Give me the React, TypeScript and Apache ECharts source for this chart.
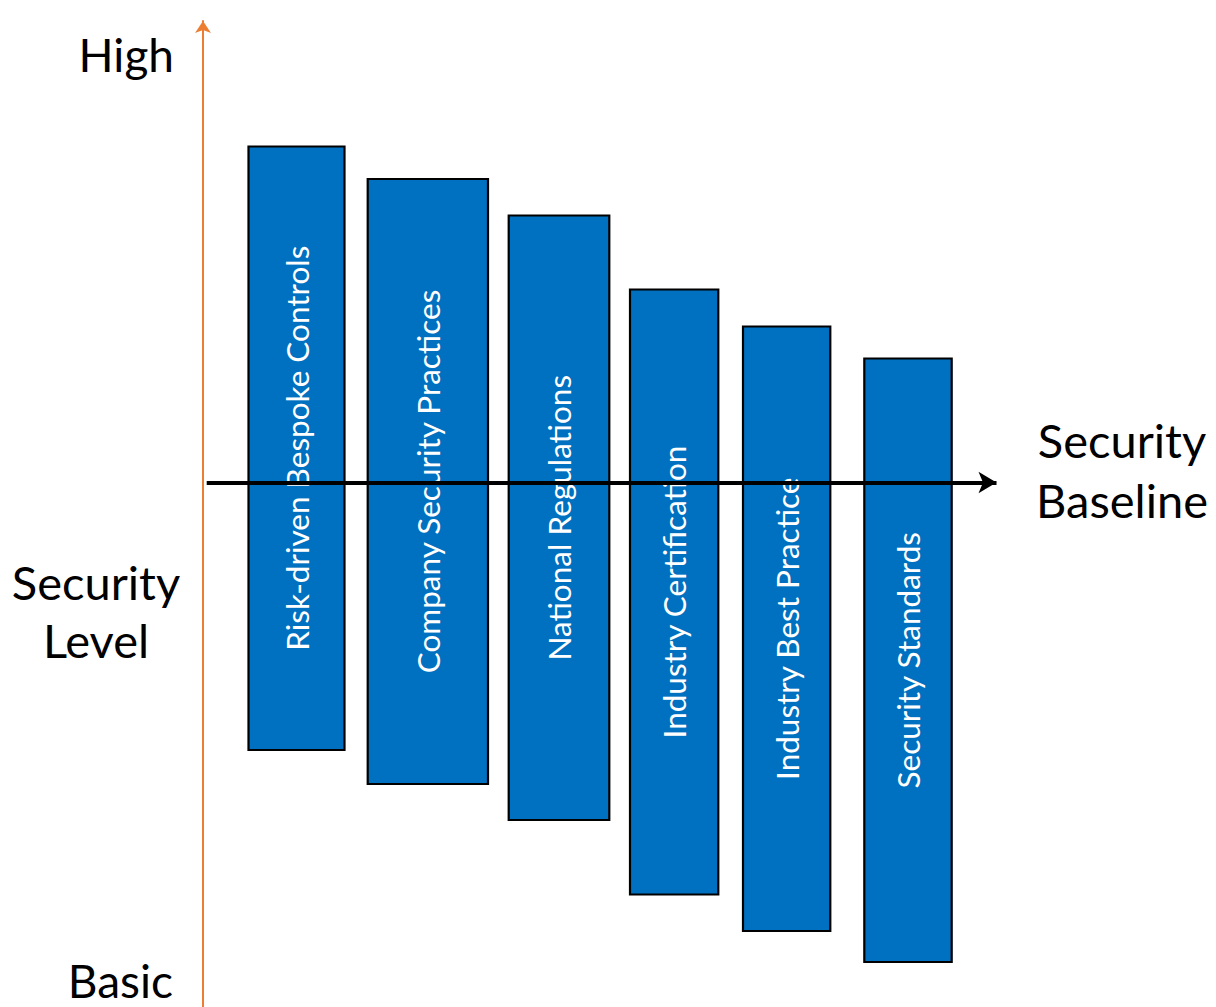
import React, { useEffect, useRef } from "react";
import * as echarts from "echarts";

// Security practices (bars), left to right
const categories = [
  "Risk-driven Bespoke Controls",
  "Company Security Practices",
  "National Regulations",
  "Industry Certification",
  "Industry Best Practice",
  "Security Standards",
];
// horizontal extent of each bar (position units along the baseline axis)
const xStart = [44.5, 163.7, 304.7, 426, 539, 660.3];
const xEnd = [142.5, 286, 407.3, 516.3, 628.3, 749.7];
// vertical extent of each bar (security level units, 0 = baseline)
const levelHigh = [67.4, 60.9, 53.6, 38.8, 31.4, 25.0];
const levelLow = [-53.7, -60.5, -67.7, -82.6, -89.9, -96.1];

// axis texts
const yTopLabel = "High";
const yBottomLabel = "Basic";
const yAxisTitle = "Security\nLevel";
const xAxisTitle = "Security\nBaseline";
// baseline arrow extent
const baselineFrom = 3.7;
const baselineTo = 785.5 + 8;

const FONT = "Lato, 'Open Sans', sans-serif";

export default function App() {
  const ref = useRef<HTMLDivElement>(null);
  useEffect(() => {
    if (!ref.current) return;
    const chart = echarts.init(ref.current, undefined, { renderer: "svg" });
    const data = categories.map((c, i) => [xStart[i], xEnd[i], levelLow[i], levelHigh[i]]);
    chart.setOption({
      animation: false,
      backgroundColor: "#ffffff",
      grid: { left: 203, right: 13, top: 21, bottom: 0 },
      xAxis: {
        type: "value",
        min: 0,
        max: 1000,
        show: false,
      },
      yAxis: {
        type: "value",
        min: -104.9,
        max: 92.3,
        axisLine: {
          show: true,
          symbol: ["none", "arrow"],
          symbolSize: [12, 12],
          lineStyle: { color: "#ED7D31", width: 2 },
        },
        axisTick: { show: false },
        axisLabel: { show: false },
        splitLine: { show: false },
      },
      graphic: [
        {
          type: "text",
          x: 174,
          y: 54,
          style: { text: yTopLabel, font: `46px ${FONT}`, lineHeight: 46, fill: "#000", align: "right", verticalAlign: "middle" },
        },
        {
          type: "text",
          x: 173,
          y: 980,
          style: { text: yBottomLabel, font: `46px ${FONT}`, lineHeight: 46, fill: "#000", align: "right", verticalAlign: "middle" },
        },
        {
          type: "text",
          x: 96,
          y: 611,
          style: { text: yAxisTitle, font: `47px ${FONT}`, lineHeight: 58, fill: "#000", align: "center", verticalAlign: "middle" },
        },
        {
          type: "text",
          x: 1122,
          y: 470,
          style: { text: xAxisTitle, font: `47px ${FONT}`, lineHeight: 60, fill: "#000", align: "center", verticalAlign: "middle" },
        },
      ],
      series: [
        {
          type: "custom",
          encode: { x: [0, 1], y: [2, 3] },
          data,
          z: 2,
          renderItem: (params: any, api: any) => {
            const p0 = api.coord([api.value(0), api.value(3)]);
            const p1 = api.coord([api.value(1), api.value(2)]);
            const idx = params.dataIndex;
            return {
              type: "group",
              children: [
                {
                  type: "rect",
                  shape: { x: p0[0] + 1, y: p0[1] + 1, width: p1[0] - p0[0] - 2, height: p1[1] - p0[1] - 2 },
                  style: { fill: "#0070C0", stroke: "#000000", lineWidth: 2.2 },
                },
                {
                  type: "text",
                  x: (p0[0] + p1[0]) / 2,
                  y: (p0[1] + p1[1]) / 2,
                  rotation: Math.PI / 2,
                  style: {
                    text: categories[idx],
                    fill: "#ffffff",
                    font: `31.5px ${FONT}`,
                    align: "center",
                    verticalAlign: "middle",
                  },
                },
              ],
            };
          },
        },
        {
          type: "line",
          data: [],
          z: 10,
          silent: true,
          markLine: {
            silent: true,
            symbol: ["none", "arrow"],
            symbolSize: [16, 18],
            label: { show: false },
            lineStyle: { color: "#000000", width: 4, type: "solid" },
            data: [[{ coord: [baselineFrom, 0] }, { coord: [baselineTo, 0] }]],
          },
        },
      ],
    });
    return () => chart.dispose();
  }, []);
  return <div ref={ref} style={{ position: "absolute", left: 0, top: 0, width: 1216, height: 1007 }} />;
}
